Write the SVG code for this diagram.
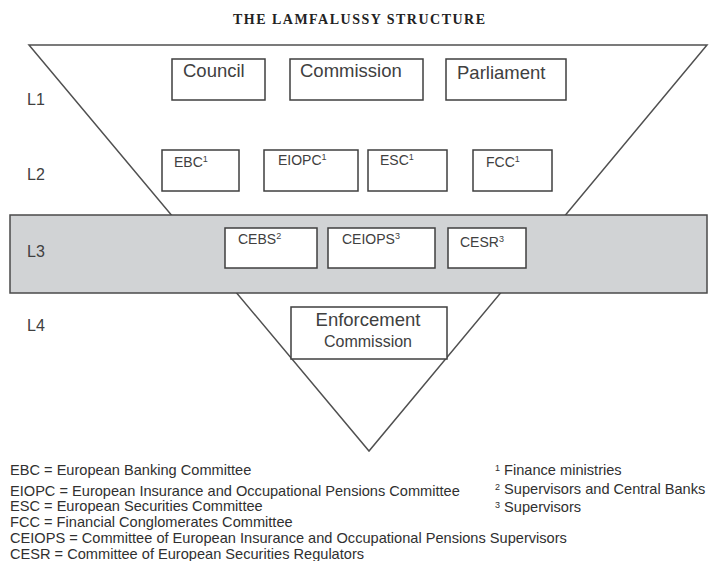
<svg xmlns="http://www.w3.org/2000/svg" width="709" height="561" viewBox="0 0 709 561">
<style>
  .bg { fill: #ffffff; }
  .tri { fill: #ffffff; stroke: #505050; stroke-width: 1.5; }
  .band { fill: #d1d3d5; stroke: #4a4a4a; stroke-width: 1.5; }
  .box { fill: #ffffff; stroke: #3f3f3f; stroke-width: 1.5; }
  .t1 { font-family: "Liberation Sans", Arial, sans-serif; font-size: 18.5px; fill: #404040; }
  .t2 { font-family: "Liberation Sans", Arial, sans-serif; font-size: 14px; fill: #404040; }
  .sup { font-size: 9px; }
  .lvl { font-family: "Liberation Sans", Arial, sans-serif; font-size: 16px; fill: #404040; }
  .leg { font-family: "Liberation Sans", Arial, sans-serif; font-size: 14.6px; fill: #303030; }
  .title { font-family: "Liberation Serif", "Times New Roman", serif; font-size: 14px; font-weight: bold; fill: #222222; }
</style>
<rect class="bg" x="0" y="0" width="709" height="561"/>
<text class="title" x="359" y="24" text-anchor="middle" textLength="252">THE LAMFALUSSY STRUCTURE</text>

<g id="connectors">
  <polygon class="tri" points="29,45 707,45 369,451"/>
</g>

<g id="band-L3">
  <rect class="band" x="10" y="215" width="697" height="78"/>
</g>

<g id="labels-levels">
  <text class="lvl" x="27" y="105">L1</text>
  <text class="lvl" x="27" y="180">L2</text>
  <text class="lvl" x="27" y="257">L3</text>
  <text class="lvl" x="27" y="331">L4</text>
</g>

<g id="node-council">
  <rect class="box" x="172" y="59" width="93" height="41"/>
  <text class="t1" x="183" y="77">Council</text>
</g>
<g id="node-commission">
  <rect class="box" x="290" y="59" width="133" height="41"/>
  <text class="t1" x="300" y="77">Commission</text>
</g>
<g id="node-parliament">
  <rect class="box" x="446" y="59" width="120" height="41"/>
  <text class="t1" x="457" y="79">Parliament</text>
</g>

<g id="node-ebc">
  <rect class="box" x="162" y="150" width="77" height="41"/>
  <text class="t2" x="174" y="167">EBC<tspan class="sup" dy="-5">1</tspan></text>
</g>
<g id="node-eiopc">
  <rect class="box" x="264" y="150" width="94" height="41"/>
  <text class="t2" x="278" y="165">EIOPC<tspan class="sup" dy="-5">1</tspan></text>
</g>
<g id="node-esc">
  <rect class="box" x="368" y="150" width="79" height="41"/>
  <text class="t2" x="380" y="165">ESC<tspan class="sup" dy="-5">1</tspan></text>
</g>
<g id="node-fcc">
  <rect class="box" x="473" y="150" width="79" height="41"/>
  <text class="t2" x="486" y="167">FCC<tspan class="sup" dy="-5">1</tspan></text>
</g>

<g id="node-cebs">
  <rect class="box" x="225" y="228" width="92" height="40"/>
  <text class="t2" x="238" y="244">CEBS<tspan class="sup" dy="-5">2</tspan></text>
</g>
<g id="node-ceiops">
  <rect class="box" x="328" y="228" width="107" height="40"/>
  <text class="t2" x="342" y="244">CEIOPS<tspan class="sup" dy="-5">3</tspan></text>
</g>
<g id="node-cesr">
  <rect class="box" x="448" y="228" width="78" height="40"/>
  <text class="t2" x="460" y="247">CESR<tspan class="sup" dy="-5">3</tspan></text>
</g>

<g id="node-enforcement">
  <rect class="box" x="291" y="307" width="156" height="52"/>
  <text class="t1" x="368" y="326" text-anchor="middle">Enforcement</text>
  <text class="lvl" x="368" y="347" text-anchor="middle">Commission</text>
</g>

<g id="legend">
  <text class="leg" x="10" y="475">EBC = European Banking Committee</text>
  <text class="leg" x="10" y="496">EIOPC = European Insurance and Occupational Pensions Committee</text>
  <text class="leg" x="10" y="511">ESC = European Securities Committee</text>
  <text class="leg" x="10" y="527">FCC = Financial Conglomerates Committee</text>
  <text class="leg" x="10" y="543">CEIOPS = Committee of European Insurance and Occupational Pensions Supervisors</text>
  <text class="leg" x="10" y="559">CESR = Committee of European Securities Regulators</text>
  <text class="leg" x="495" y="475"><tspan class="sup" dy="-4">1</tspan><tspan dy="4"> Finance ministries</tspan></text>
  <text class="leg" x="495" y="494"><tspan class="sup" dy="-4">2</tspan><tspan dy="4"> Supervisors and Central Banks</tspan></text>
  <text class="leg" x="495" y="512"><tspan class="sup" dy="-4">3</tspan><tspan dy="4"> Supervisors</tspan></text>
</g>
</svg>
